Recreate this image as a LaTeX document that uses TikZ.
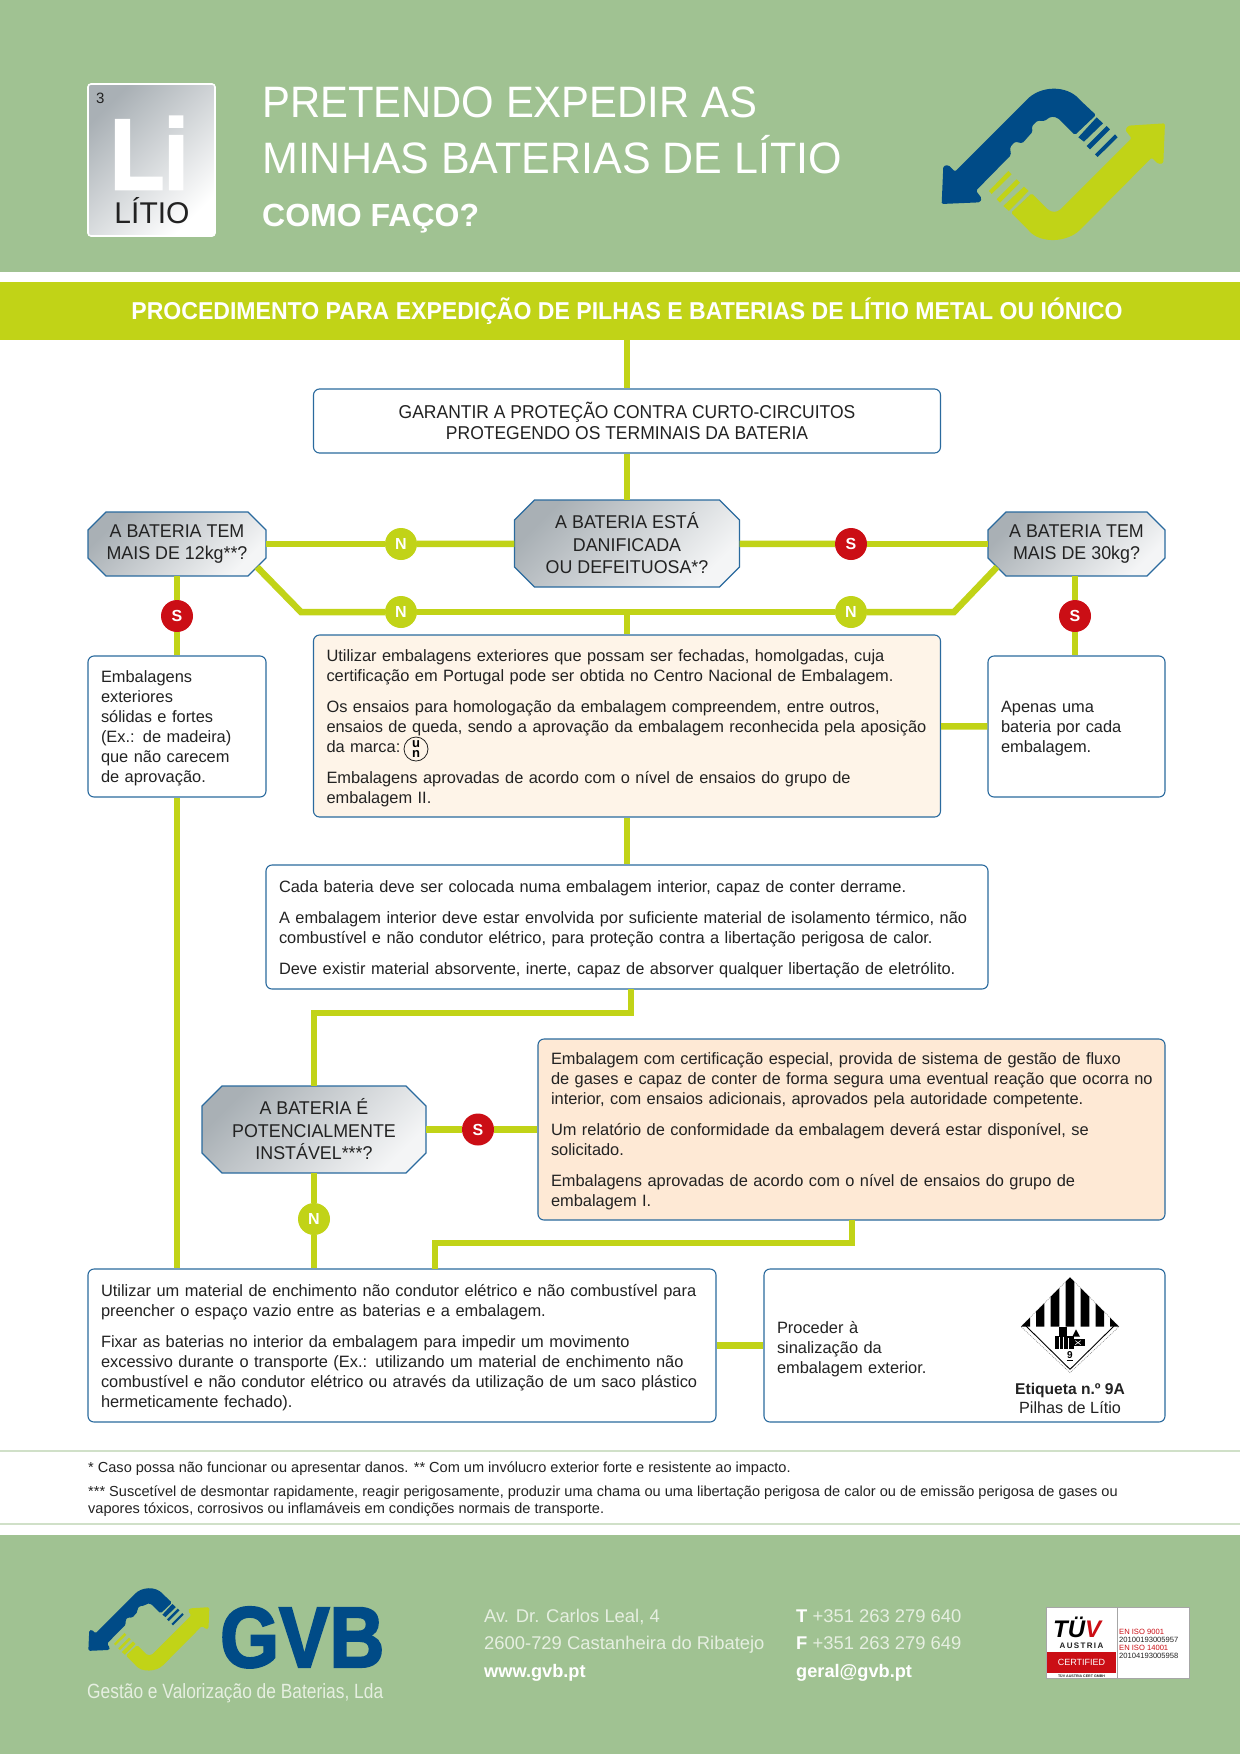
\documentclass[tikz,border=0pt]{standalone}
\usepackage{fontspec}
\setmainfont{Liberation Sans}
\newfontfamily\gvbheavy{Liberation Sans Bold}[FakeBold=2.5,FakeStretch=0.88]
\newfontfamily\titlef{Liberation Sans}[FakeStretch=0.95]
\newfontfamily\titleg{Liberation Sans}[FakeStretch=0.977]
\newfontfamily\bandf{Liberation Sans Bold}[FakeStretch=0.945]
\newfontfamily\boxonef{Liberation Sans}[FakeStretch=0.94]
\newfontfamily\octf{Liberation Sans}[FakeStretch=0.965]
\newfontfamily\condf{Liberation Sans}[FakeStretch=0.843]
\definecolor{hdrgreen}{HTML}{A0C292}
\definecolor{limeg}{HTML}{C1D317}
\definecolor{gvbblue}{HTML}{004B87}
\definecolor{boxblue}{HTML}{2A6A9E}
\definecolor{ssred}{HTML}{CB0E15}
\definecolor{creamf}{HTML}{FEF4E8}
\definecolor{orangef}{HTML}{FEE9D5}
\definecolor{greyd}{HTML}{A9B0B5}
\definecolor{greyl}{HTML}{F4F5F6}
\definecolor{txt}{HTML}{222222}
\definecolor{softw}{HTML}{E6EFE1}
\newcommand\Ln[1]{\mbox{#1}\\}
\newcommand\Pa[1]{\mbox{#1}\\[11pt]}
\newcommand\octshape[5]{%
  \draw[octfill] ({#1-#3/2+#5},{#2-#4/2}) -- ({#1+#3/2-#5},{#2-#4/2}) -- ({#1+#3/2},{#2-#4/2+#5})
    -- ({#1+#3/2},{#2+#4/2-#5}) -- ({#1+#3/2-#5},{#2+#4/2}) -- ({#1-#3/2+#5},{#2+#4/2})
    -- ({#1-#3/2},{#2+#4/2-#5}) -- ({#1-#3/2},{#2-#4/2+#5}) -- cycle;}
\newcommand\gvblogo{%
  \fill[gvbblue,rounded corners=1.5pt] (125,432) -- (130,318) -- (145,315) -- (165,335) -- (375,125)
     .. controls (420,75) and (500,75) .. (540,120) -- (588,165) -- (525,225) -- (480,180)
     .. controls (465,168) and (450,168) .. (435,183) -- (412,182) -- (395,200) -- (398,215) -- (367,250)
     -- (345,245) -- (330,262) -- (333,285) -- (228,392) -- (245,415) -- (240,427) -- cycle;
  \fill[gvbblue] (535,232) -- (590,172) -- (609,190) -- (552,245) -- cycle;
  \fill[gvbblue] (560,258) -- (620,198) -- (630,208) -- (570,268) -- cycle;
  \fill[gvbblue] (585,283) -- (645,223) -- (653,232) -- (593,291) -- cycle;
  \fill[limeg,rounded corners=1.5pt] (333,458) -- (395,400) -- (440,445)
     .. controls (455,458) and (470,458) .. (485,445) -- (695,235) -- (676,210) -- (685,197) -- (795,190)
     -- (790,310) -- (775,312) -- (755,293) -- (545,505)
     .. controls (500,550) and (420,550) .. (385,510) -- cycle;
  \fill[limeg] (310,438) -- (372,380) -- (386,393) -- (327,453) -- cycle;
  \fill[limeg] (290,418) -- (350,358) -- (360,368) -- (300,428) -- cycle;
  \fill[limeg] (267,393) -- (325,333) -- (335,343) -- (275,402) -- cycle;
}
\tikzset{
  conn/.style={draw=limeg,line width=6.5pt},
  boxbase/.style={draw=boxblue,line width=1.1pt,rounded corners=6pt,inner xsep=13pt,inner ysep=0pt,
     align=left,text=txt,font=\fontsize{16.4}{20}\selectfont,execute at begin node={\rule{0pt}{16pt}}},
  plainbox/.style={boxbase,fill=white},
  creambox/.style={boxbase,fill=creamf},
  orangebox/.style={boxbase,fill=orangef},
  octfill/.style={draw=boxblue,line width=1.1pt,top color=greyd,bottom color=greyl,shading angle=45},
  octa/.style={rectangle,inner sep=0pt,align=center,text=txt,font=\octf\fontsize{18.5}{22.5}\selectfont},
  nmark/.style={circle,fill=limeg,minimum size=32pt,inner sep=0pt,text=white,font=\fontsize{16}{16}\bfseries\selectfont},
  smark/.style={circle,fill=ssred,minimum size=32pt,inner sep=0pt,text=white,font=\fontsize{16}{16}\bfseries\selectfont},
  foot/.style={anchor=base west,inner sep=0pt,text=softw,font=\fontsize{18.4}{20}\selectfont},
  note/.style={anchor=base west,inner sep=0pt,text=txt,font=\fontsize{14.55}{17}\selectfont},
  isotxt/.style={anchor=base west,inner sep=0pt,font=\fontsize{7.6}{8}\selectfont},
}
\begin{document}
\begin{tikzpicture}[x=1pt,y=-1pt]
\useasboundingbox (0,0) rectangle (1240,1754);
\fill[white] (0,0) rectangle (1240,1754);
\fill[hdrgreen] (0,0) rectangle (1240,272);
\fill[limeg] (0,282) rectangle (1240,340);
\fill[hdrgreen] (0,1535) rectangle (1240,1754);
\draw[hdrgreen!50,line width=1.2pt] (0,1451) -- (1240,1451) (0,1524) -- (1240,1524);
% Li tile
\node[draw=white,line width=1.6pt,rounded corners=3pt,top color=greyd,bottom color=white,shading angle=45,
      minimum width=127pt,minimum height=152pt,inner sep=0pt] (tile) at (151.5,160) {};
\node[anchor=base west,inner sep=0pt,text=txt,font=\fontsize{15}{15}\selectfont] (tilen) at (96,103) {3};
\node[anchor=base west,inner sep=0pt,text depth=0pt,text=white,font=\gvbheavy\fontsize{100}{100}\selectfont] (tilesym) at (110,189) {Li};
\node[anchor=base,inner sep=0pt,text=txt,font=\fontsize{30}{30}\selectfont] (tilename) at (152,223) {LÍTIO};
% title
\node[anchor=base west,inner sep=0pt,text=white,font=\titlef\fontsize{44}{44}\selectfont] (t1) at (262,117) {PRETENDO EXPEDIR AS};
\node[anchor=base west,inner sep=0pt,text=white,font=\titleg\fontsize{44}{44}\selectfont] (t2) at (262,173) {MINHAS BATERIAS DE LÍTIO};
\node[anchor=base west,inner sep=0pt,text=white,font=\fontsize{32}{32}\bfseries\selectfont] (t3) at (262,226) {COMO FAÇO?};
\begin{scope}[shift={(900,60)},x=0.3333pt,y=-0.3333pt]\gvblogo\end{scope}
\node[inner sep=0pt,text=white,font=\bandf\fontsize{24.4}{24}\selectfont] (band) at (627,311) {PROCEDIMENTO PARA EXPEDIÇÃO DE PILHAS E BATERIAS DE LÍTIO METAL OU IÓNICO};
% flow nodes
\coordinate (start) at (627,340);
\node[plainbox,minimum width=627pt,minimum height=64pt,align=center,execute at begin node={},font=\boxonef\fontsize{18.6}{21.5}\selectfont] (box1) at (627,421) {GARANTIR A PROTEÇÃO CONTRA CURTO-CIRCUITOS\\PROTEGENDO OS TERMINAIS DA BATERIA};
\octshape{627}{543.5}{225}{87}{20}
\node[octa,minimum width=225pt,minimum height=87pt] (octC) at (627,543.5) {A BATERIA ESTÁ\\DANIFICADA\\OU DEFEITUOSA*?};
\octshape{177}{544}{178}{64}{18}
\node[octa,minimum width=178pt,minimum height=64pt] (octL) at (177,544) {A BATERIA TEM\\MAIS DE 12kg**?};
\octshape{1076.5}{544}{177}{64}{18}
\node[octa,minimum width=177pt,minimum height=64pt] (octR) at (1076.5,544) {A BATERIA TEM\\MAIS DE 30kg?};
\node[plainbox,text width=152pt,minimum height=141pt] (boxL) at (177,726.5) {\Ln{Embalagens}\Ln{exteriores}\Ln{sólidas e fortes}\Ln{(Ex.: de madeira)}\Ln{que não carecem}\mbox{de aprovação.}};
\node[creambox,text width=601pt,minimum height=182pt] (cream) at (627,726) {\Ln{Utilizar embalagens exteriores que possam ser fechadas, homolgadas, cuja}\Pa{certificação em Portugal pode ser obtida no Centro Nacional de Embalagem.}\Ln{Os ensaios para homologação da embalagem compreendem, entre outros,}\Ln{ensaios de queda, sendo a aprovação da embalagem reconhecida pela aposição}\Pa{da marca:}\Ln{Embalagens aprovadas de acordo com o nível de ensaios do grupo de}\mbox{embalagem II.}};
\node[plainbox,text width=151pt,minimum height=141pt] (boxR) at (1076.5,726.5) {\Ln{Apenas uma}\Ln{bateria por cada}\mbox{embalagem.}};
\node[plainbox,text width=696pt,minimum height=124pt] (mid) at (627,927) {\Pa{Cada bateria deve ser colocada numa embalagem interior, capaz de conter derrame.}\Ln{A embalagem interior deve estar envolvida por suficiente material de isolamento térmico, não}\Pa{combustível e não condutor elétrico, para proteção contra a libertação perigosa de calor.}\mbox{Deve existir material absorvente, inerte, capaz de absorver qualquer libertação de eletrólito.}};
\octshape{314}{1129.5}{224}{87}{20}
\node[octa,minimum width=224pt,minimum height=87pt] (octI) at (314,1129.5) {A BATERIA É\\POTENCIALMENTE\\INSTÁVEL***?};
\node[orangebox,text width=601pt,minimum height=181pt] (orange) at (851.5,1129.5) {\Ln{Embalagem com certificação especial, provida de sistema de gestão de fluxo}\Ln{de gases e capaz de conter de forma segura uma eventual reação que ocorra no}\Pa{interior, com ensaios adicionais, aprovados pela autoridade competente.}\Ln{Um relatório de conformidade da embalagem deverá estar disponível, se}\Pa{solicitado.}\Ln{Embalagens aprovadas de acordo com o nível de ensaios do grupo de}\mbox{embalagem I.}};
\node[plainbox,text width=602pt,minimum height=153pt] (bl) at (402,1345.5) {\Ln{Utilizar um material de enchimento não condutor elétrico e não combustível para}\Pa{preencher o espaço vazio entre as baterias e a embalagem.}\Ln{Fixar as baterias no interior da embalagem para impedir um movimento}\Ln{excessivo durante o transporte (Ex.: utilizando um material de enchimento não}\Ln{combustível e não condutor elétrico ou através da utilização de um saco plástico}\mbox{hermeticamente fechado).}};
\node[plainbox,text width=375pt,minimum height=153pt,execute at begin node={\rule{0pt}{20pt}}] (br) at (964.5,1345.5) {\Ln{Proceder à}\Ln{sinalização da}\mbox{embalagem exterior.}};
% decision marks
\node[nmark] (nL1) at (401,544) {N};
\node[smark] (sR1) at (851,544) {S};
\node[nmark] (nL2) at (401,612) {N};
\node[nmark] (nR2) at (851,612) {N};
\node[smark] (sL) at (177,616) {S};
\node[smark] (sR2) at (1075,616) {S};
\node[smark] (sI) at (478,1129.5) {S};
\node[nmark] (nI) at (314,1219) {N};
% connector free ends
\coordinate (dl0) at (257,567); \coordinate (dl1) at (301,612);
\coordinate (dr1) at (954,612); \coordinate (dr0) at (997,567);
\coordinate (mx) at (631,989); \coordinate (mx1) at (631,1013); \coordinate (mx2) at (314,1013);
\coordinate (ox) at (852,1220); \coordinate (ox1) at (852,1243); \coordinate (ox2) at (435,1243); \coordinate (ox3) at (435,1269);
\draw[conn] (start) -- (box1);
\draw[conn] (box1) -- (octC);
\draw[conn] (octL) -- (nL1);
\draw[conn] (nL1) -- (octC);
\draw[conn] (octC) -- (sR1);
\draw[conn] (sR1) -- (octR);
\draw[conn] (dl0) -- (dl1) -- (nL2);
\draw[conn] (nL2) -- (nR2);
\draw[conn] (nR2) -- (dr1) -- (dr0);
\draw[conn] (cream.north |- nL2) -- (cream.north);
\draw[conn] (octL) -- (sL);
\draw[conn] (sL) -- (boxL);
\draw[conn] (octR.south -| sR2) -- (sR2);
\draw[conn] (sR2) -- (boxR.north -| sR2);
\draw[conn] (boxL.south) -- (boxL.south |- bl.north);
\draw[conn] (cream) -- (boxR);
\draw[conn] (cream.south) -- (mid.north);
\draw[conn] (mx) -- (mx1) -- (mx2) -- (octI.north);
\draw[conn] (octI) -- (nI);
\draw[conn] (nI) -- (nI |- bl.north);
\draw[conn] (octI) -- (sI);
\draw[conn] (sI) -- (orange);
\draw[conn] (ox) -- (ox1) -- (ox2) -- (ox3);
\draw[conn] (bl) -- (br);
% UN mark
\node[draw=txt,circle,line width=0.8pt,minimum size=24pt,inner sep=0pt,align=center,text=black,font=\fontsize{13}{10.5}\bfseries\selectfont] (unmark) at (416,749) {u\\n};
% class 9 label
\begin{scope}[shift={(1010,1270)},x=0.3333pt,y=-0.3333pt]
  \draw[gray,dash pattern=on 1pt off 1pt,line width=0.5pt] (33,170) -- (180,22) -- (327,170) -- (180,308) -- cycle;
  \begin{scope}
    \clip (33,170) -- (180,22) -- (327,170) -- cycle;
    \fill[black] (33,60) rectangle (60,170) (78,60) rectangle (103,170) (122,20) rectangle (148,170)
      (167,20) rectangle (193,170) (212,20) rectangle (238,170) (257,60) rectangle (282,170) (300,60) rectangle (327,170);
  \end{scope}
  \draw[black,line width=0.9pt] (48,168) -- (180,298) -- (312,168);
  \fill[black] (135,198) rectangle (192,238);
  \fill[black] (146,172) rectangle (170,198);
  \draw[white,line width=0.6pt] (147,200) -- (147,238) (160,200) -- (160,238) (175,205) -- (175,238);
  \fill[black] (192,208) rectangle (224,228);
  \fill[black] (187,200) -- (198,178) -- (210,200) -- cycle;
  \draw[white,line width=0.6pt] (196,212) -- (212,224) (212,212) -- (196,224);
  \node[inner sep=0pt,text=black,font=\fontsize{10}{10}\bfseries\selectfont] (nine) at (180,256) {9};
  \draw[black,line width=0.7pt] (170,271) -- (190,271);
\end{scope}
\node[anchor=base,inner sep=0pt,text=txt,font=\fontsize{15.6}{16}\bfseries\selectfont] (lab1) at (1070,1394) {Etiqueta n.º 9A};
\node[anchor=base,inner sep=0pt,text=txt,font=\fontsize{16.2}{16}\selectfont] (lab2) at (1070,1413) {Pilhas de Lítio};
% footnotes
\node[note] (f1) at (88,1472) {* Caso possa não funcionar ou apresentar danos. ** Com um invólucro exterior forte e resistente ao impacto.};
\node[note] (f2) at (88,1496) {*** Suscetível de desmontar rapidamente, reagir perigosamente, produzir uma chama ou uma libertação perigosa de calor ou de emissão perigosa de gases ou};
\node[note] (f3) at (88,1513) {vapores tóxicos, corrosivos ou inflamáveis em condições normais de transporte.};
% footer
\begin{scope}[shift={(65.75,1572.8)},x=0.1807pt,y=-0.1807pt]\gvblogo\end{scope}
\node[anchor=base west,inner sep=0pt,text=gvbblue,font=\gvbheavy\fontsize{86}{86}\selectfont] (gvb) at (220,1667) {GVB};
\node[anchor=base west,inner sep=0pt,text=softw,font=\condf\fontsize{20.6}{20}\selectfont] (gvbname) at (87,1698) {Gestão e Valorização de Baterias, Lda};
\node[foot] (a1) at (484,1622) {Av. Dr. Carlos Leal, 4};
\node[foot] (a2) at (484,1649) {2600-729 Castanheira do Ribatejo};
\node[foot,text=white,font=\fontsize{18.2}{20}\bfseries\selectfont] (a3) at (484,1677) {www.gvb.pt};
\node[foot] (p1) at (796,1622) {\textcolor{white}{\bfseries T} +351 263 279 640};
\node[foot] (p2) at (796,1649) {\textcolor{white}{\bfseries F} +351 263 279 649};
\node[foot,text=white,font=\fontsize{18.2}{20}\bfseries\selectfont] (p3) at (796,1677) {geral@gvb.pt};
% certificate
\node[draw=gray!70,line width=0.8pt,fill=white,minimum width=143pt,minimum height=71pt,inner sep=0pt] (cert) at (1117.5,1642.5) {};
\draw[gray!70,line width=0.8pt] (cert.north) -- (cert.south);
\fill[ssred] (1047,1652) rectangle (1116,1673);
\node[anchor=base west,inner sep=0pt,font=\fontsize{24}{24}\bfseries\itshape\selectfont] (tuv) at (1053,1637) {TÜ\textcolor{ssred}{V}};
\node[anchor=base,inner sep=0pt,text=txt,font=\fontsize{8}{8}\bfseries\selectfont] (aus) at (1081.5,1648) {A\,U\,S\,T\,R\,I\,A};
\node[inner sep=0pt,text=white,font=\fontsize{9}{9}\selectfont] (crt) at (1081.5,1662.5) {CERTIFIED};
\node[inner sep=0pt,text=txt,font=\fontsize{3.6}{4}\bfseries\selectfont] (gmbh) at (1081.5,1676) {TÜV AUSTRIA CERT GMBH};
\node[isotxt,text=ssred] (i1) at (1119,1634) {EN ISO 9001};
\node[isotxt,text=txt] (i2) at (1119,1642) {20100193005957};
\node[isotxt,text=ssred] (i3) at (1119,1650) {EN ISO 14001};
\node[isotxt,text=txt] (i4) at (1119,1658) {20104193005958};
\end{tikzpicture}
\end{document}
